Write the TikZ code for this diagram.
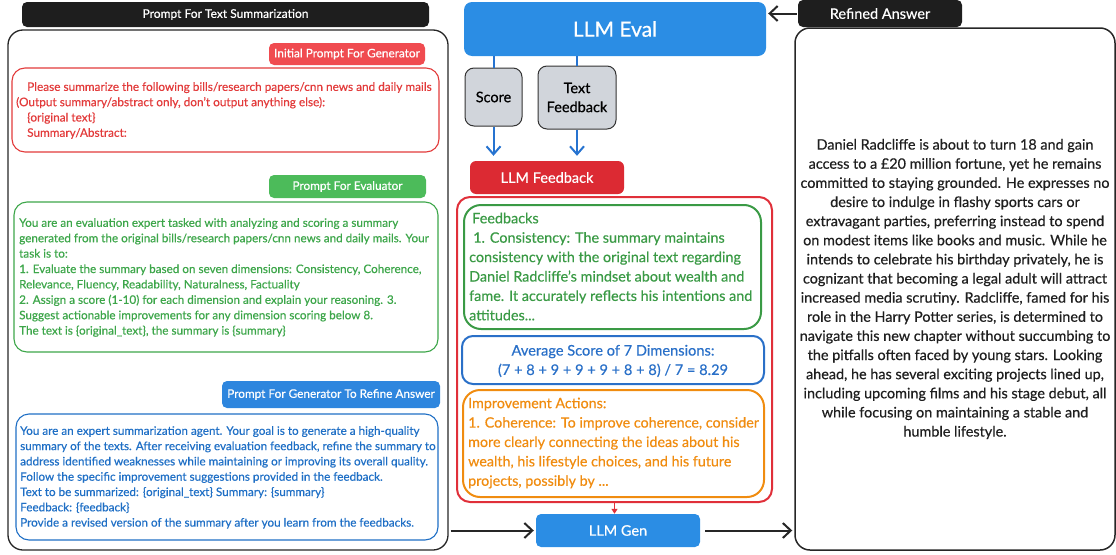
\documentclass[tikz,border=0pt]{standalone}
\usepackage{fontspec}
\setmainfont{Lato}[FakeBold=0.5]
\usetikzlibrary{arrows.meta}
\definecolor{tabblack}{HTML}{1E1E1E}
\definecolor{redfill}{HTML}{F04B50}
\definecolor{redtxt}{HTML}{E23B3B}
\definecolor{greenfill}{HTML}{4CBB5A}
\definecolor{greentxt}{HTML}{3DA64A}
\definecolor{bluefill}{HTML}{2E86DE}
\definecolor{bluetxt}{HTML}{1F6FC5}
\definecolor{evalblue}{HTML}{2B8DE4}
\definecolor{fbred}{HTML}{DC2A33}
\definecolor{outred}{HTML}{E0303A}
\definecolor{midgreen}{HTML}{3A9A45}
\definecolor{midblue}{HTML}{2A70C8}
\definecolor{orangec}{HTML}{F08C10}
\definecolor{grayfill}{HTML}{D1D5DB}
\definecolor{linkblue}{HTML}{2673D0}
\begin{document}
\begin{tikzpicture}[x=1pt,y=-1pt,
  tabbox/.style={rounded corners=5pt, text=white, inner sep=0pt, font=\fontsize{11.8}{13}\selectfont},
  outbox/.style={draw, rounded corners=13pt, line width=1.1pt, inner sep=0pt},
  plaintext/.style={inner sep=0pt, align=left, anchor=north west},
  graybox/.style={draw=black!80, fill=grayfill, rounded corners=9pt, line width=1pt, inner sep=0pt, align=center, font=\fontsize{14.5}{19}\selectfont},
  bluelink/.style={draw=linkblue, line width=2pt},
  barb/.style={-{Straight Barb[length=8pt,width=14pt,line width=2pt]}},
  blackarrow/.style={draw=black!85, line width=2pt, -{Straight Barb[length=8pt,width=15pt,line width=2pt]}}
]
\useasboundingbox (0,0) rectangle (1116,554);

% ---------------- left panel ----------------
\node[tabbox, fill=tabblack, minimum width=407pt, minimum height=25pt, font=\fontsize{12}{14}\selectfont] (title) at (225.5,14.5) {Prompt For Text Summarization};
\node[outbox, draw=black!85, line width=1.3pt, rounded corners=15pt, minimum width=440pt, minimum height=520pt] (leftbox) at (228,290) {};

\node[tabbox, fill=redfill, minimum width=156pt, minimum height=22pt] (redtab) at (347,54) {Initial Prompt For Generator};
\node[outbox, draw=redtxt, minimum width=427pt, minimum height=84pt] (redbox) at (225.5,110) {};
\node[plaintext, text=redtxt, font=\fontsize{11.8}{15.3}\selectfont] (redtext) at (16,82)
 {\hspace*{11pt}Please summarize the following bills/research papers/cnn news and daily mails\\
 (Output summary/abstract only, don't output anything else):\\
 \hspace*{11pt}\{original text\}\\
 \hspace*{11pt}Summary/Abstract:};

\node[tabbox, fill=greenfill, minimum width=157pt, minimum height=23pt] (greentab) at (347.5,186.5) {Prompt For Evaluator};
\node[outbox, draw=greentxt, minimum width=424pt, minimum height=150pt] (greenbox) at (226,277) {};
\node[plaintext, text=greentxt, font=\fontsize{11.7}{15.4}\selectfont] (greentext) at (19,218)
 {You are an evaluation expert tasked with analyzing and scoring a summary\\
 generated from the original bills/research papers/cnn news and daily mails. Your\\
 task is to:\\
 1. Evaluate the summary based on seven dimensions: Consistency, Coherence,\\
 Relevance, Fluency, Readability, Naturalness, Factuality\\
 2. Assign a score (1-10) for each dimension and explain your reasoning. 3.\\
 Suggest actionable improvements for any dimension scoring below 8.\\
 The text is \{original\_text\}, the summary is \{summary\}};

\node[tabbox, fill=bluefill, minimum width=218pt, minimum height=27pt] (bluetab) at (331,394.5) {Prompt For Generator To Refine Answer};
\node[outbox, draw=bluetxt, minimum width=422pt, minimum height=126pt] (bluebox) at (227,477) {};
\node[plaintext, text=bluetxt, font=\fontsize{11.7}{15.3}\selectfont] (bluetext) at (20,426)
 {You are an expert summarization agent. Your goal is to generate a high-quality\\
 summary of the texts. After receiving evaluation feedback, refine the summary to\\
 address identified weaknesses while maintaining or improving its overall quality.\\
 Follow the specific improvement suggestions provided in the feedback.\\
 Text to be summarized: \{original\_text\} Summary: \{summary\}\\
 Feedback: \{feedback\}\\
 Provide a revised version of the summary after you learn from the feedbacks.};

% ---------------- middle column ----------------
\node[fill=evalblue, rounded corners=8pt, text=white, inner sep=0pt, minimum width=302pt, minimum height=54pt, font=\fontsize{21}{24}\selectfont] (eval) at (615,29) {LLM Eval};
\node[graybox, minimum width=57pt, minimum height=58pt] (score) at (493.5,97) {Score};
\node[graybox, minimum width=78pt, minimum height=63pt] (tfb) at (577,97.5) {Text\\Feedback};
\node[fill=fbred, rounded corners=6pt, text=white, inner sep=0pt, minimum width=154pt, minimum height=33pt, font=\fontsize{14.5}{17}\selectfont] (llmfb) at (547,177.5) {LLM Feedback};

\draw[bluelink] (eval.south -| score.north) -- (score.north);
\draw[bluelink] (eval.south -| tfb.north) -- (tfb.north);
\draw[bluelink, barb, shorten >=5pt] (score.south) -- (score.south |- llmfb.north);
\draw[bluelink, barb, shorten >=5pt] (tfb.south) -- (tfb.south |- llmfb.north);

\node[outbox, draw=outred, line width=2pt, rounded corners=13pt, minimum width=315pt, minimum height=305pt] (redout) at (614.5,349.5) {};
\node[outbox, draw=midgreen, line width=2pt, rounded corners=17pt, minimum width=297pt, minimum height=124pt] (fbbox) at (612.5,267) {};
\node[plaintext, text=midgreen, font=\fontsize{14.4}{19.4}\selectfont] (fbtext) at (469,212.5)
 {\hspace*{3pt}Feedbacks\\
 \hspace*{4pt}1. Consistency: The summary maintains\\
 consistency with the original text regarding\\
 Daniel Radcliffe's mindset about wealth and\\
 fame. It accurately reflects his intentions and\\
 attitudes...};
\node[outbox, draw=midblue, line width=2pt, rounded corners=11pt, minimum width=302pt, minimum height=48pt] (avgbox) at (613,360) {};
\node[inner sep=0pt, align=center, text=midblue, font=\fontsize{14.6}{19.4}\selectfont] (avgtext) at (613,361) {Average Score of 7 Dimensions:\\(7 + 8 + 9 + 9 + 9 + 8 + 8) / 7 = 8.29};
\node[outbox, draw=orangec, line width=2pt, rounded corners=17pt, minimum width=301pt, minimum height=107pt] (orbox) at (613.5,443.5) {};
\node[plaintext, text=orangec, font=\fontsize{14.3}{19.4}\selectfont] (ortext) at (468,397.5)
 {Improvement Actions:\\
 1. Coherence: To improve coherence, consider\\
 more clearly connecting the ideas about his\\
 wealth, his lifestyle choices, and his future\\
 projects, possibly by ...};

\node[fill=evalblue, rounded corners=5pt, text=white, inner sep=0pt, minimum width=164pt, minimum height=33pt, font=\fontsize{14.5}{17}\selectfont] (gen) at (618,530.5) {LLM Gen};
\draw[draw=outred, line width=1.5pt, -{Triangle[length=5pt,width=6pt]}] (redout.south) -- (redout.south |- gen.north);

% ---------------- right panel ----------------
\node[tabbox, fill=tabblack, minimum width=164pt, minimum height=27pt, font=\fontsize{14.5}{16}\selectfont] (reftab) at (880,13.5) {Refined Answer};
\node[outbox, draw=black!85, line width=1.5pt, rounded corners=15pt, minimum width=320pt, minimum height=522pt] (rightbox) at (955,289) {};
\node[inner sep=0pt, align=center, font=\fontsize{14.4}{19.13}\selectfont, text=black!88] (answer) at (955,289)
 {Daniel Radcliffe is about to turn 18 and gain\\
 access to a £20 million fortune, yet he remains\\
 committed to staying grounded. He expresses no\\
 desire to indulge in flashy sports cars or\\
 extravagant parties, preferring instead to spend\\
 on modest items like books and music. While he\\
 intends to celebrate his birthday privately, he is\\
 cognizant that becoming a legal adult will attract\\
 increased media scrutiny. Radcliffe, famed for his\\
 role in the Harry Potter series, is determined to\\
 navigate this new chapter without succumbing to\\
 the pitfalls often faced by young stars. Looking\\
 ahead, he has several exciting projects lined up,\\
 including upcoming films and his stage debut, all\\
 while focusing on maintaining a stable and\\
 humble lifestyle.};

% ---------------- connectors ----------------
\draw[blackarrow, shorten <=1pt, shorten >=2pt] (reftab.west) -- (reftab.west -| eval.east);
\draw[blackarrow, shorten <=2pt, shorten >=2pt] (leftbox.east |- gen.west) -- (gen.west);
\draw[blackarrow, shorten <=5pt, shorten >=2pt] (gen.east) -- (gen.east -| rightbox.west);
\end{tikzpicture}
\end{document}
